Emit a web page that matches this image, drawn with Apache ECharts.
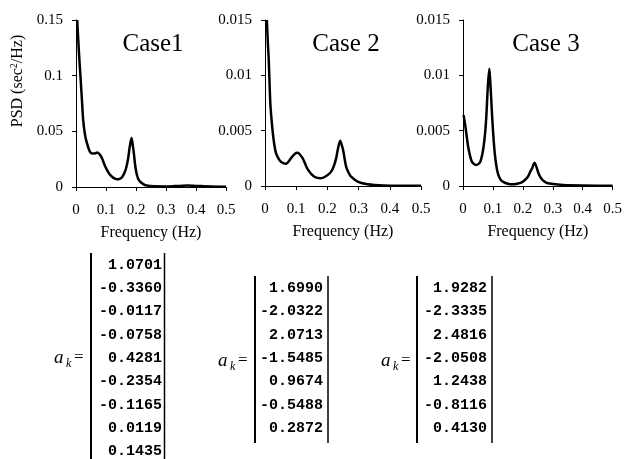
<!DOCTYPE html>
<html>
<head>
<meta charset="utf-8">
<script src="https://cdn.jsdelivr.net/npm/echarts@6/dist/echarts.min.js"></script>
<style>
  html, body { margin: 0; padding: 0; background: #fff; }
  #main { width: 625px; height: 459px; }
</style>
</head>
<body>
<div id="main"></div>
<script>
// PSD curves (frequency in Hz, PSD in sec^2/Hz)
var case1Freq = [0.004, 0.010, 0.015, 0.020, 0.024, 0.030, 0.037, 0.048, 0.060, 0.071, 0.080, 0.087, 0.095, 0.104, 0.112, 0.121, 0.130, 0.137, 0.146, 0.154, 0.162, 0.168, 0.174, 0.179, 0.185, 0.189, 0.193, 0.197, 0.202, 0.208, 0.215, 0.225, 0.232, 0.26, 0.30, 0.33, 0.37, 0.40, 0.45, 0.50];
var case1Psd  = [0.150, 0.120, 0.099, 0.077, 0.060, 0.047, 0.039, 0.031, 0.030, 0.031, 0.029, 0.0255, 0.020, 0.015, 0.0115, 0.009, 0.0075, 0.0069, 0.0074, 0.009, 0.013, 0.018, 0.026, 0.036, 0.044, 0.038, 0.030, 0.020, 0.012, 0.007, 0.0045, 0.0025, 0.0015, 0.0006, 0.0005, 0.0008, 0.0013, 0.0010, 0.0005, 0.0003];

var case2Freq = [0.006, 0.009, 0.012, 0.017, 0.021, 0.025, 0.030, 0.035, 0.043, 0.051, 0.067, 0.083, 0.095, 0.105, 0.113, 0.121, 0.137, 0.158, 0.179, 0.201, 0.212, 0.220, 0.228, 0.233, 0.241, 0.246, 0.250, 0.255, 0.260, 0.268, 0.276, 0.297, 0.329, 0.38, 0.50];
var case2Psd  = [0.0150, 0.0130, 0.0114, 0.0075, 0.0060, 0.0048, 0.0037, 0.0030, 0.0025, 0.0022, 0.0020, 0.0025, 0.0029, 0.0030, 0.0028, 0.0025, 0.0015, 0.00084, 0.0007, 0.0010, 0.0013, 0.00175, 0.0025, 0.00325, 0.0041, 0.0037, 0.0033, 0.0025, 0.00175, 0.0012, 0.00084, 0.0004, 0.00015, 0.00005, 0.00002];

var case3Freq = [0.002, 0.009, 0.017, 0.028, 0.036, 0.044, 0.052, 0.058, 0.064, 0.069, 0.074, 0.078, 0.083, 0.088, 0.092, 0.095, 0.098, 0.102, 0.106, 0.111, 0.117, 0.125, 0.133, 0.150, 0.167, 0.180, 0.194, 0.205, 0.217, 0.225, 0.231, 0.235, 0.239, 0.243, 0.247, 0.253, 0.261, 0.272, 0.283, 0.333, 0.50];
var case3Psd  = [0.0064, 0.0052, 0.0036, 0.0023, 0.0020, 0.0019, 0.0020, 0.0022, 0.0028, 0.0036, 0.0048, 0.0063, 0.0090, 0.0106, 0.0090, 0.0075, 0.0060, 0.0043, 0.0030, 0.0019, 0.0011, 0.0006, 0.0004, 0.0002, 0.00015, 0.0002, 0.0003, 0.0005, 0.00084, 0.0013, 0.0016, 0.0019, 0.0021, 0.0019, 0.0016, 0.0011, 0.0007, 0.0004, 0.00025, 0.0001, 0.00003];

// AR coefficients shown under each plot
var case1Ak = [1.0701, -0.3360, -0.0117, -0.0758, 0.4281, -0.2354, -0.1165, 0.0119, 0.1435];
var case2Ak = [1.6990, -2.0322, 2.0713, -1.5485, 0.9674, -0.5488, 0.2872];
var case3Ak = [1.9282, -2.3335, 2.4816, -2.0508, 1.2438, -0.8116, 0.4130];

var caseTitles = ['Case1', 'Case 2', 'Case 3'];
var yMax = [0.15, 0.015, 0.015];
var yInterval = [0.05, 0.005, 0.005];

var serif = '"Liberation Serif", "Times New Roman", serif';
var mono = '"Liberation Mono", "Courier New", monospace';

function zip(xs, ys) {
  var out = [];
  for (var i = 0; i < xs.length; i++) out.push([xs[i], ys[i]]);
  return out;
}

var grids = [
  { left: 76, top: 20, width: 150, height: 167 },
  { left: 265, top: 20, width: 156, height: 166 },
  { left: 463, top: 20, width: 150, height: 166 }
];

var xAxes = [], yAxes = [], series = [];
var curves = [zip(case1Freq, case1Psd), zip(case2Freq, case2Psd), zip(case3Freq, case3Psd)];
for (var i = 0; i < 3; i++) {
  xAxes.push({
    type: 'value', gridIndex: i, min: 0, max: 0.5, interval: 0.1,
    name: 'Frequency (Hz)', nameLocation: 'middle', nameGap: 38,
    nameTextStyle: { fontFamily: serif, fontSize: 16, color: '#000' },
    axisLine: { lineStyle: { color: '#000', width: 1 } },
    axisTick: { length: 4, lineStyle: { color: '#000' } },
    axisLabel: { fontFamily: serif, fontSize: 15, color: '#000', margin: 16 },
    splitLine: { show: false }
  });
  yAxes.push({
    type: 'value', gridIndex: i, min: 0, max: yMax[i], interval: yInterval[i],
    axisLine: { show: true, lineStyle: { color: '#000', width: 1 } },
    axisTick: { show: true, length: 4, lineStyle: { color: '#000' } },
    axisLabel: { fontFamily: serif, fontSize: 15, color: '#000', margin: 13 },
    splitLine: { show: false }
  });
  series.push({
    type: 'line', xAxisIndex: i, yAxisIndex: i, data: curves[i],
    showSymbol: false, smooth: 0.3, clip: true,
    lineStyle: { color: '#000', width: 2.5 }
  });
}

// coefficient columns
var graphics = [];
var mats = [
  { ak: case1Ak, top: 265, right: 162, barL: 91, barR: 164.5, y1: 253, y2: 459, ax: 54, ay: 358 },
  { ak: case2Ak, top: 288.3, right: 323, barL: 255, barR: 328, y1: 276, y2: 443, ax: 218, ay: 361 },
  { ak: case3Ak, top: 288.3, right: 487, barL: 417, barR: 492, y1: 276, y2: 443, ax: 381, ay: 361 }
];
mats.forEach(function (m) {
  m.ak.forEach(function (v, j) {
    graphics.push({
      type: 'text', x: m.right, y: m.top + j * 23.3,
      style: { text: v.toFixed(4), fill: '#000', font: 'bold 15px ' + mono, align: 'right', verticalAlign: 'middle', textAlign: 'right', textVerticalAlign: 'middle' }
    });
  });
  graphics.push({ type: 'line', shape: { x1: m.barL, y1: m.y1, x2: m.barL, y2: m.y2 }, style: { stroke: '#000', lineWidth: 2 } });
  graphics.push({ type: 'line', shape: { x1: m.barR, y1: m.y1, x2: m.barR, y2: m.y2 }, style: { stroke: '#000', lineWidth: 1.5 } });
  graphics.push({ type: 'text', x: m.ax, y: m.ay, style: { text: 'a', fill: '#000', font: 'italic 19px ' + serif, verticalAlign: 'middle', textVerticalAlign: 'middle' } });
  graphics.push({ type: 'text', x: m.ax + 12, y: m.ay + 6, style: { text: 'k', fill: '#000', font: 'italic 12px ' + serif, verticalAlign: 'middle', textVerticalAlign: 'middle' } });
  graphics.push({ type: 'text', x: m.ax + 20, y: m.ay, style: { text: '=', fill: '#000', font: '17px ' + serif, verticalAlign: 'middle', textVerticalAlign: 'middle' } });
});

var titleX = [153, 346, 546];
caseTitles.forEach(function (t, i) {
  graphics.push({
    type: 'text', x: titleX[i], y: 44,
    style: { text: t, fill: '#000', font: '25px ' + serif, align: 'center', verticalAlign: 'middle', textAlign: 'center', textVerticalAlign: 'middle' }
  });
});

graphics.push({
  type: 'text', x: 18, y: 81, rotation: Math.PI / 2,
  style: {
    text: 'PSD (sec{sup|2}/Hz)', fill: '#000', font: '16px ' + serif,
    align: 'center', verticalAlign: 'middle', textAlign: 'center', textVerticalAlign: 'middle',
    rich: { sup: { fontSize: 10, fontFamily: serif, padding: [0, 0, 8, 0] } }
  }
});

var myChart = echarts.init(document.getElementById('main'));
var option = {
  animation: false,
  backgroundColor: '#fff',
  grid: grids,
  xAxis: xAxes,
  yAxis: yAxes,
  series: series,
  graphic: graphics
};
myChart.setOption(option);
</script>
</body>
</html>
